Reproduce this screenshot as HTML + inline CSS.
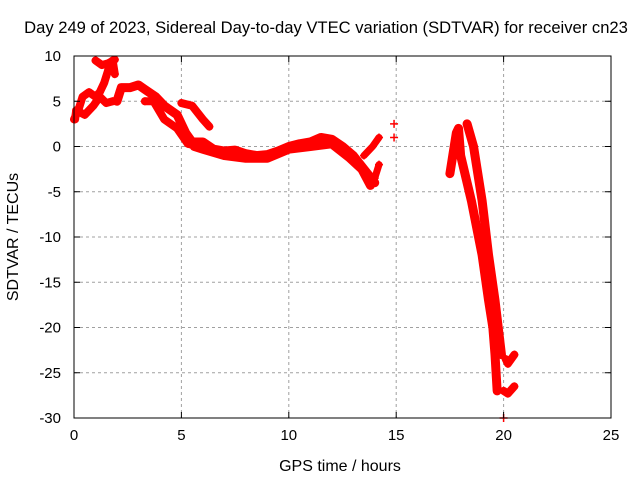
<!DOCTYPE html>
<html><head><meta charset="utf-8"><style>
body{margin:0;background:#fff;}
svg{display:block;font-family:"Liberation Sans",sans-serif;}
</style></head><body>
<svg id="chart" width="640" height="480">
<text x="326" y="33" text-anchor="middle" font-size="16.6">Day 249 of 2023, Sidereal Day-to-day VTEC variation (SDTVAR) for receiver cn23</text>
<text x="340" y="471" text-anchor="middle" font-size="16">GPS time / hours</text>
<text transform="translate(18,237) rotate(-90)" text-anchor="middle" font-size="16">SDTVAR / TECUs</text>
<g id="grid"></g><g id="marks"></g><g id="axes"></g>
</svg>
<script>
const xTicks=[0,5,10,15,20,25];
const yTicks=[10,5,0,-5,-10,-15,-20,-25,-30];
const track1=[[0,3],[0.2,4],[0.4,5.5],[0.7,6],[1,5.5],[1.2,6],[1.4,7],[1.6,8.5],[1.8,9.5],[1.9,8]];
const track2=[[0.05,3],[0.1,4],[0.5,3.5],[0.9,4.5],[1.2,5.5],[1.5,4.8],[1.8,5]];
const track3=[[1,9.5],[1.3,9],[1.6,9.2],[1.9,9.6]];
const track4=[[2,5],[2.2,6.5],[2.6,6.5],[3,6.8],[3.3,6.3],[3.8,5.5],[4.2,4.5],[4.8,3.5],[5.2,1.5],[5.5,0.5],[6,0.5],[6.5,-0.3],[7,-0.5],[7.5,-0.4],[8,-0.8],[8.5,-1],[9,-0.9],[9.5,-0.5],[10,0],[10.5,0.3],[11,0.5],[11.5,1],[12,0.8],[12.5,0],[13,-1],[13.5,-2.5],[14,-4]];
const track4b=[[5.6,0],[6,-0.3],[7,-1],[8,-1.3],[9,-1.3],[10,-0.3],[11,0],[12,0.3],[12.8,-1.2],[13.4,-2.5],[13.8,-4.3]];
const track5=[[3.3,5],[3.7,5],[4.2,3],[4.8,2],[5.3,0.3],[5.8,0]];
const track6=[[5,4.8],[5.5,4.5],[6,3],[6.3,2.2]];
const track7=[[13.5,-1],[13.9,0],[14.2,1]];
const track8=[[13.6,-3],[14,-3.5],[14.2,-2]];
const track9=[[17.5,-3],[17.7,0],[17.8,1.5],[17.9,2],[18,-1],[18.3,-4],[18.5,-6],[19,-12],[19.3,-17],[19.5,-20],[19.6,-23],[19.7,-27]];
const track10=[[18.3,2.5],[18.6,0],[19,-6],[19.3,-12],[19.6,-17],[19.8,-21],[19.9,-23]];
const track11=[[20.1,-23.5],[20.2,-24],[20.5,-23]];
const track12=[[20,-27],[20.2,-27.3],[20.5,-26.5]];
const singles=[[14.9,2.5],[14.9,1],[20,-30]];
const tracks=[track1,track2,track3,track4,track4b,track5,track6,track7,track8,track9,track10,track11,track12];
const widthsPx=[8,8,8,9,9,8,8,7,7,9,9,8,8];

const L=74,R=611,T=56,B=418;
const X=h=>L+(h-0)/25*(R-L);
const Y=v=>T+(10-v)/40*(B-T);
const NS='http://www.w3.org/2000/svg';
function mk(t,a,p){const e=document.createElementNS(NS,t);for(const k in a)e.setAttribute(k,a[k]);p.appendChild(e);return e;}
const grid=document.getElementById('grid'),axes=document.getElementById('axes'),marks=document.getElementById('marks');
xTicks.forEach(t=>{
 if(t>0&&t<25){const g=mk('line',{x1:X(t),x2:X(t),y1:T,y2:B,stroke:'#a0a0a0','stroke-dasharray':'3,3'},grid);
 
 }
 mk('line',{x1:X(t),x2:X(t),y1:B,y2:B-6,stroke:'#000'},axes);
 mk('line',{x1:X(t),x2:X(t),y1:T,y2:T+6,stroke:'#000'},axes);
 const l=mk('text',{x:X(t),y:B+22,'text-anchor':'middle','font-size':15},axes);l.textContent=t;
 
 
});
yTicks.forEach(t=>{
 if(t<10&&t>-30){const g=mk('line',{x1:L,x2:R,y1:Y(t),y2:Y(t),stroke:'#a0a0a0','stroke-dasharray':'3,3'},grid);
 
 }
 mk('line',{x1:L,x2:L+6,y1:Y(t),y2:Y(t),stroke:'#000'},axes);
 mk('line',{x1:R,x2:R-6,y1:Y(t),y2:Y(t),stroke:'#000'},axes);
 const l=mk('text',{x:L-13,y:Y(t)+5,'text-anchor':'end','font-size':15},axes);l.textContent=t;
 
 
});
const fr=mk('rect',{x:L,y:T,width:R-L,height:B-T,fill:'none',stroke:'#000'},axes);


function plus(p){
 const x=X(p[0]),y=Y(p[1]);
 const e=mk('path',{d:`M${x-4},${y}H${x+4}M${x},${y-4}V${y+4}`,stroke:'#f00','stroke-width':1.5},marks);
 
 
}
tracks.forEach((tr,i)=>{
 const pl=mk('polyline',{points:tr.map(p=>X(p[0])+','+Y(p[1])).join(' '),fill:'none',stroke:'#f00','stroke-width':widthsPx[i],'stroke-linejoin':'round','stroke-linecap':'round'},marks);
 
 
 tr.forEach(plus);
});
singles.forEach(plus);
</script>
</body></html>
